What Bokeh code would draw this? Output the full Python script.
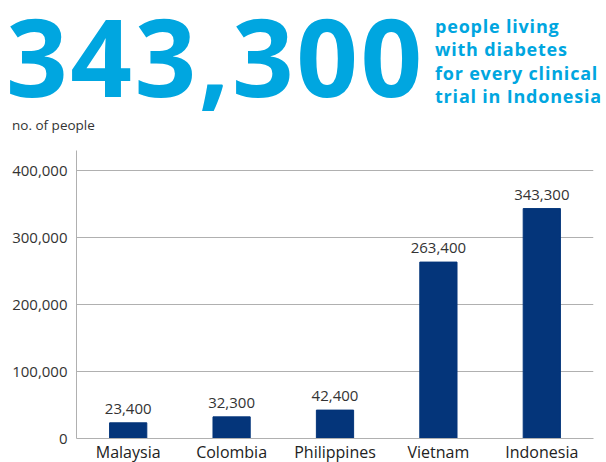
from bokeh.plotting import figure
from bokeh.layouts import column
from bokeh.models import ColumnDataSource, FixedTicker, NumeralTickFormatter, Range1d, LabelSet, Div
from bokeh.core.properties import value
from bokeh.embed import file_html
from bokeh.resources import INLINE

countries = ["Malaysia", "Colombia", "Philippines", "Vietnam", "Indonesia"]
people = [23400, 32300, 42400, 263400, 343300]
labels = ["23,400", "32,300", "42,400", "263,400", "343,300"]
y_ticks = [0, 100000, 200000, 300000, 400000]
headline = "343,300"
subtitle = ["people living", "with diabetes", "for every clinical", "trial in Indonesia"]
y_label = "no. of people"

CYAN = "#00a6e0"
NAVY = "#04357a"
FONT = "Open Sans"

# ---- header (HTML) ----
html = (
    f'<div style="position:relative;width:606px;height:150px;margin:0;padding:0;'
    f'font-family:\'{FONT}\';overflow:visible;">'
    f'<div style="position:absolute;left:6px;top:11px;font-size:108px;font-weight:700;'
    f'line-height:90px;color:{CYAN};letter-spacing:2.5px;white-space:nowrap;">{headline}</div>'
    f'<div style="position:absolute;left:435px;top:14.5px;font-size:18px;font-weight:700;'
    f'line-height:23.5px;color:{CYAN};letter-spacing:0.8px;white-space:nowrap;">'
    + "<br>".join(subtitle) +
    f'</div>'
    f'<div style="position:absolute;left:12px;top:117px;font-size:13.5px;line-height:16px;'
    f'color:#333333;white-space:nowrap;">{y_label}</div>'
    f'</div>'
)
h = Div(text=html, width=606, height=150, margin=0, styles={"padding": "0", "margin": "0"})

# ---- chart ----
src = ColumnDataSource(dict(x=countries, y=people, t=labels))
p = figure(frame_width=517, frame_height=288, x_range=countries, y_range=Range1d(0, 430000),
           output_backend="svg", toolbar_location=None,
           min_border_left=76, min_border_right=13, min_border_top=0, min_border_bottom=0)
p.vbar(x="x", top="y", width=0.36, source=src, color=NAVY)
p.add_layout(LabelSet(x="x", y="y", text="t", source=src, y_offset=9, text_align="center",
                      text_font=value(FONT), text_font_size="15px", text_color="#333333"))

p.outline_line_color = None
p.xgrid.grid_line_color = None
p.ygrid.grid_line_color = "#b0b0b0"
p.ygrid.ticker = FixedTicker(ticks=y_ticks)
p.yaxis.ticker = FixedTicker(ticks=y_ticks)
p.yaxis.formatter = NumeralTickFormatter(format="0,0")
p.yaxis.major_tick_line_color = None
p.yaxis.minor_tick_line_color = None
p.yaxis.axis_line_color = "#b0b0b0"
p.yaxis.major_label_text_font = FONT
p.yaxis.major_label_text_font_size = "15px"
p.yaxis.major_label_text_color = "#333333"
p.yaxis.major_label_standoff = 3
p.xaxis.major_tick_line_color = None
p.xaxis.axis_line_color = "#b0b0b0"
p.xaxis.major_label_text_font = FONT
p.xaxis.major_label_text_font_size = "16px"
p.xaxis.major_label_text_color = "#222222"
p.xaxis.major_label_standoff = -4

layout = column(h, p, spacing=0)
open("out.html", "w").write(file_html(layout, INLINE))
